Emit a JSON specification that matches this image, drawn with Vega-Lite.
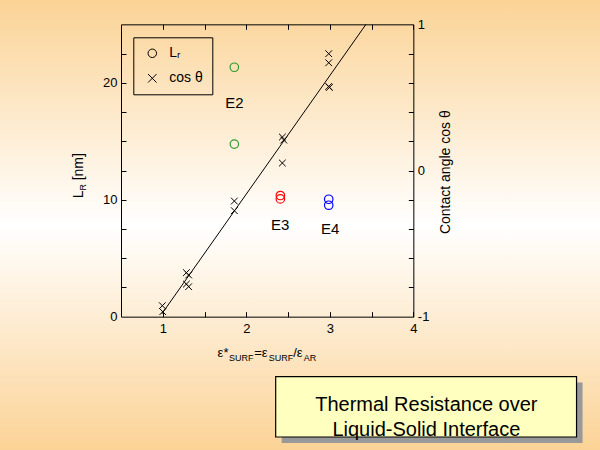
{
  "$schema": "https://vega.github.io/schema/vega-lite/v6.json",
  "width": 600,
  "height": 450,
  "padding": 0,
  "autosize": {"type": "none"},
  "background": "#FBD396",
  "config": {
    "font": "Liberation Sans",
    "view": {"stroke": null}
  },
  "layer": [
    {
      "data": {"values": [{}]},
      "mark": {"type": "rect", "fill": {"gradient": "linear", "x1": 0, "y1": 0, "x2": 0, "y2": 1, "stops": [{"offset": 0, "color": "#FBD396"}, {"offset": 0.5, "color": "#FFFFFF"}, {"offset": 1, "color": "#FBD396"}]}},
      "encoding": {}
    },
    {
      "data": {"values": [{"x": 0.988, "L": 0.23}, {"x": 3.433, "L": 25}]},
      "mark": {"type": "line", "color": "black", "strokeWidth": 1},
      "encoding": {
        "x": {"field": "x", "type": "quantitative", "scale": {"domain": [0.5, 4], "range": [121, 413.33], "nice": false, "zero": false},
          "axis": {"orient": "bottom", "zindex": 2, "offset": -133.33, "values": [1, 2, 3, 4], "format": "d", "ticks": false, "tickSize": 0, "labelPadding": 6, "title": null, "grid": false, "domainColor": "black", "labelColor": "black", "labelFontSize": 13, "labelFont": "Liberation Sans", "labelFlush": false, "labelOverlap": false, "labelBound": false}},
        "y": {"field": "L", "type": "quantitative", "scale": {"domain": [0, 25], "range": [316.67, 24.33], "nice": false, "zero": false},
          "axis": {"orient": "left", "zindex": 2, "offset": -121, "values": [0, 10, 20], "format": "d", "ticks": false, "tickSize": 0, "labelPadding": 4, "title": null, "grid": false, "domainColor": "black", "labelColor": "black", "labelFontSize": 13, "labelFont": "Liberation Sans", "labelFlush": false, "labelOverlap": false, "labelBound": false}}
      }
    },
    {
      "data": {"values": [
        {"grp": "E2", "x": 1.857, "L": 21.33},
        {"grp": "E2", "x": 1.857, "L": 14.76},
        {"grp": "E3", "x": 2.408, "L": 10.36},
        {"grp": "E3", "x": 2.408, "L": 10.07},
        {"grp": "E4", "x": 2.987, "L": 10.04},
        {"grp": "E4", "x": 2.987, "L": 9.53}
      ]},
      "mark": {"type": "point", "filled": false, "size": 72, "strokeWidth": 1.2, "opacity": 1},
      "encoding": {
        "x": {"field": "x", "type": "quantitative", "scale": {"domain": [0.5, 4], "range": [121, 413.33], "nice": false, "zero": false},
          "axis": {"orient": "top", "zindex": 2, "offset": -316.67, "values": [1, 1.5, 2, 2.5, 3, 3.5, 4], "labels": false, "domain": false, "tickSize": 5, "tickColor": "black", "title": null, "grid": false}},
        "y": {"field": "L", "type": "quantitative", "scale": {"domain": [0, 25], "range": [316.67, 24.33], "nice": false, "zero": false},
          "axis": {"orient": "right", "zindex": 2, "offset": -479, "values": [2.5, 5, 7.5, 10, 12.5, 15, 17.5, 20, 22.5], "labels": false, "domain": false, "tickSize": 5, "tickColor": "black", "title": null, "grid": false}},
        "color": {"field": "grp", "type": "nominal", "scale": {"domain": ["E2", "E3", "E4"], "range": ["#2E9B2E", "#FF0000", "#0000FF"]}, "legend": null},
        "shape": {"datum": "Lᵣ", "type": "nominal", "scale": {"domain": ["Lᵣ", "cos θ"], "range": ["circle", "M-1,-1L1,1M-1,1L1,-1"]},
          "legend": {"orient": "none", "legendX": 133.3, "legendY": 37.3, "title": null, "strokeColor": "black", "padding": 9, "rowPadding": 11, "symbolStrokeColor": "black", "symbolFillColor": "transparent", "symbolStrokeWidth": 1, "symbolSize": 72, "labelFontSize": 14, "labelColor": "black", "labelOffset": 10, "symbolOffset": 3}}
      }
    },
    {
      "data": {"values": [
        {"label": "E2", "x": 1.857, "L": 18.24},
        {"label": "E3", "x": 2.406, "L": 7.84},
        {"label": "E4", "x": 3.005, "L": 7.49}
      ]},
      "mark": {"type": "text", "fontSize": 15, "align": "center", "baseline": "middle", "color": "black"},
      "encoding": {
        "x": {"field": "x", "type": "quantitative", "scale": {"domain": [0.5, 4], "range": [121, 413.33], "nice": false, "zero": false},
          "axis": {"orient": "bottom", "zindex": 2, "offset": -425.67, "values": [1, 1.5, 2, 2.5, 3, 3.5, 4], "labels": false, "domain": false, "tickSize": 5, "tickColor": "black", "title": null, "grid": false}},
        "y": {"field": "L", "type": "quantitative", "scale": {"domain": [0, 25], "range": [316.67, 24.33], "nice": false, "zero": false},
          "axis": {"orient": "left", "zindex": 2, "offset": -413.33, "values": [2.5, 5, 7.5, 10, 12.5, 15, 17.5, 20, 22.5], "labels": false, "domain": false, "tickSize": 5, "tickColor": "black", "title": null, "grid": false}},
        "text": {"field": "label", "type": "nominal"}
      }
    },
    {
      "data": {"values": [{}]},
      "mark": {"type": "rect", "fill": "#999999"},
      "encoding": {
        "x": {"datum": 2.424, "type": "quantitative", "scale": {"domain": [0.5, 4], "range": [121, 413.33], "nice": false, "zero": false}, "axis": null},
        "x2": {"datum": 6.026},
        "y": {"datum": -5.63, "type": "quantitative", "scale": {"domain": [0, 25], "range": [316.67, 24.33], "nice": false, "zero": false}, "axis": null},
        "y2": {"datum": -10.8}
      }
    },
    {
      "data": {"values": [{}]},
      "mark": {"type": "rect", "fill": "#FFFFBF", "stroke": "black", "strokeWidth": 1.2},
      "encoding": {
        "x": {"datum": 2.352, "type": "quantitative", "scale": {"domain": [0.5, 4], "range": [121, 413.33], "nice": false, "zero": false}, "axis": null},
        "x2": {"datum": 5.954},
        "y": {"datum": -5.12, "type": "quantitative", "scale": {"domain": [0, 25], "range": [316.67, 24.33], "nice": false, "zero": false}, "axis": null},
        "y2": {"datum": -10.29}
      }
    },
    {
      "data": {"values": [{}]},
      "mark": {"type": "text", "fontSize": 20, "align": "center", "baseline": "middle", "lineHeight": 25, "color": "black", "text": ["Thermal Resistance over", "Liquid-Solid Interface"]},
      "encoding": {
        "x": {"datum": 4.156, "type": "quantitative", "scale": {"domain": [0.5, 4], "range": [121, 413.33], "nice": false, "zero": false}, "axis": null},
        "y": {"datum": -7.576, "type": "quantitative", "scale": {"domain": [0, 25], "range": [316.67, 24.33], "nice": false, "zero": false}, "axis": null}
      }
    },
    {
      "data": {"values": [
        {"t": "ε*", "x": 1.6567, "L": -3.44},
        {"t": "=ε", "x": 2.0942, "L": -3.44},
        {"t": "/ε", "x": 2.5616, "L": -3.44}
      ]},
      "mark": {"type": "text", "fontSize": 13, "align": "left", "baseline": "alphabetic", "color": "black"},
      "encoding": {
        "x": {"field": "x", "type": "quantitative", "scale": {"domain": [0.5, 4], "range": [121, 413.33], "nice": false, "zero": false}, "axis": null},
        "y": {"field": "L", "type": "quantitative", "scale": {"domain": [0, 25], "range": [316.67, 24.33], "nice": false, "zero": false}, "axis": null},
        "text": {"field": "t", "type": "nominal"}
      }
    },
    {
      "data": {"values": [
        {"t": "SURF", "x": 1.7945, "L": -3.824},
        {"t": "SURF", "x": 2.268, "L": -3.824},
        {"t": "AR", "x": 2.6875, "L": -3.824}
      ]},
      "mark": {"type": "text", "fontSize": 9, "align": "left", "baseline": "alphabetic", "color": "black"},
      "encoding": {
        "x": {"field": "x", "type": "quantitative", "scale": {"domain": [0.5, 4], "range": [121, 413.33], "nice": false, "zero": false}, "axis": null},
        "y": {"field": "L", "type": "quantitative", "scale": {"domain": [0, 25], "range": [316.67, 24.33], "nice": false, "zero": false}, "axis": null},
        "text": {"field": "t", "type": "nominal"}
      }
    },
    {
      "data": {"values": [
        {"t": "L", "x": 0.0505, "L": 10.12},
        {"t": "[nm]", "x": 0.0505, "L": 11.66}
      ]},
      "mark": {"type": "text", "fontSize": 14, "align": "left", "baseline": "alphabetic", "angle": 270, "color": "black"},
      "encoding": {
        "x": {"field": "x", "type": "quantitative", "scale": {"domain": [0.5, 4], "range": [121, 413.33], "nice": false, "zero": false}, "axis": null},
        "y": {"field": "L", "type": "quantitative", "scale": {"domain": [0, 25], "range": [316.67, 24.33], "nice": false, "zero": false}, "axis": null},
        "text": {"field": "t", "type": "nominal"}
      }
    },
    {
      "data": {"values": [
        {"t": "R", "x": 0.0805, "L": 10.79}
      ]},
      "mark": {"type": "text", "fontSize": 9, "align": "left", "baseline": "alphabetic", "angle": 270, "color": "black"},
      "encoding": {
        "x": {"field": "x", "type": "quantitative", "scale": {"domain": [0.5, 4], "range": [121, 413.33], "nice": false, "zero": false}, "axis": null},
        "y": {"field": "L", "type": "quantitative", "scale": {"domain": [0, 25], "range": [316.67, 24.33], "nice": false, "zero": false}, "axis": null},
        "text": {"field": "t", "type": "nominal"}
      }
    },
    {
      "data": {"values": [
        {"x": 0.995, "cos": -0.925},
        {"x": 1.0, "cos": -0.966},
        {"x": 1.283, "cos": -0.699},
        {"x": 1.31, "cos": -0.715},
        {"x": 1.283, "cos": -0.777},
        {"x": 1.31, "cos": -0.795},
        {"x": 1.857, "cos": -0.209},
        {"x": 1.857, "cos": -0.275},
        {"x": 2.432, "cos": 0.229},
        {"x": 2.449, "cos": 0.208},
        {"x": 2.432, "cos": 0.051},
        {"x": 2.987, "cos": 0.799},
        {"x": 2.987, "cos": 0.737},
        {"x": 2.987, "cos": 0.575},
        {"x": 2.995, "cos": 0.568}
      ]},
      "mark": {"type": "point", "filled": false, "size": 45, "strokeWidth": 1, "color": "black", "opacity": 1},
      "encoding": {
        "x": {"field": "x", "type": "quantitative", "scale": {"domain": [0.5, 4], "range": [121, 413.33], "nice": false, "zero": false},
          "axis": {"orient": "top", "zindex": 2, "offset": -24.33, "values": [1, 2, 3, 4], "labels": false, "ticks": false, "title": null, "grid": false, "domainColor": "black"}},
        "y": {"field": "cos", "type": "quantitative", "scale": {"domain": [-1, 1], "range": [316.67, 24.33], "nice": false, "zero": false},
          "axis": {"orient": "right", "zindex": 2, "offset": -186.67, "values": [-1, 0, 1], "labelExpr": "datum.value > 0.5 ? '1' : datum.value < -0.5 ? '-1' : '0'", "ticks": false, "tickSize": 0, "labelPadding": 4, "grid": false, "domainColor": "black", "labelColor": "black", "labelFontSize": 13, "labelFont": "Liberation Sans", "labelFlush": false, "labelOverlap": false, "labelBound": false,
            "title": "Contact angle cos θ", "titleAngle": 270, "titleX": 35.7, "titleY": 171.7, "titleAlign": "center", "titleBaseline": "alphabetic", "titleFontSize": 14, "titleFontWeight": "normal", "titleColor": "black", "titleFont": "Liberation Sans"}},
        "shape": {"datum": "cos θ", "type": "nominal", "scale": {"domain": ["Lᵣ", "cos θ"], "range": ["circle", "M-1,-1L1,1M-1,1L1,-1"]}}
      }
    }
  ],
  "resolve": {"scale": {"y": "independent"}, "axis": {"x": "independent", "y": "independent"}}
}
